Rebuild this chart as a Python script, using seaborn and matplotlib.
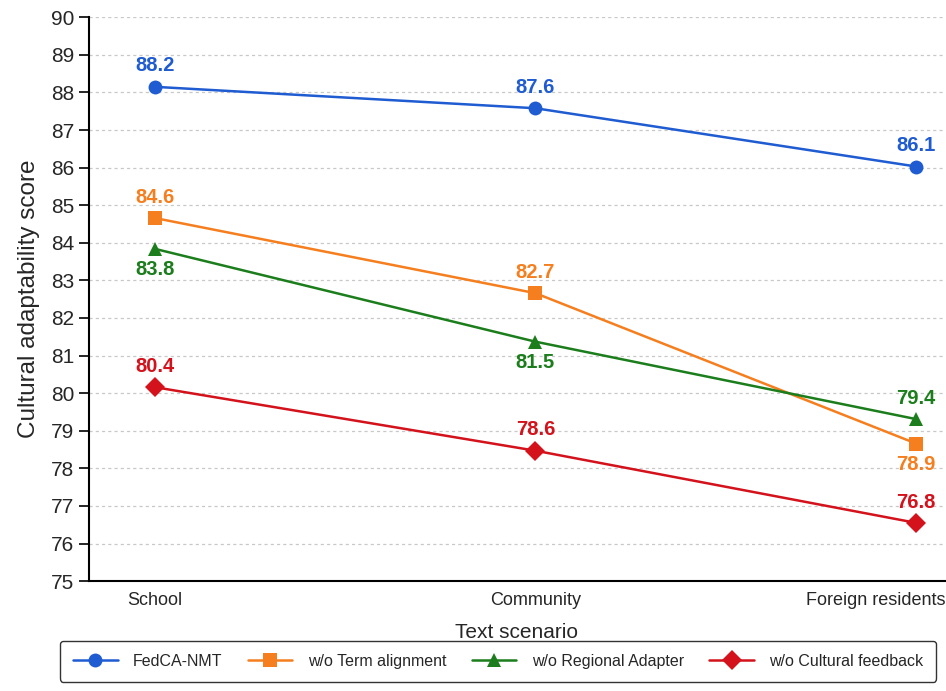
import pandas as pd
import matplotlib.pyplot as plt
import matplotlib.transforms as mtransforms
import seaborn as sns

scenarios = ['School', 'Community', 'Foreign residents']
models = ['FedCA-NMT', 'w/o Term alignment', 'w/o Regional Adapter', 'w/o Cultural feedback']

# point positions
fedca = [88.15, 87.58, 86.03]
term = [84.66, 82.66, 78.66]
regional = [83.84, 81.37, 79.31]
feedback = [80.16, 78.47, 76.55]

# printed labels
fedca_lab = ['88.2', '87.6', '86.1']
term_lab = ['84.6', '82.7', '78.9']
regional_lab = ['83.8', '81.5', '79.4']
feedback_lab = ['80.4', '78.6', '76.8']

colors = ['#1f5bd1', '#f57f1f', '#1b7d1b', '#d3121c']
markers = ['o', 's', '^', 'D']

rows = []
for m, vals in zip(models, [fedca, term, regional, feedback]):
    for s, v in zip(scenarios, vals):
        rows.append({'Text scenario': s, 'score': v, 'model': m})
df = pd.DataFrame(rows)

sns.set_theme(style='white')
plt.rcParams['font.family'] = ['Liberation Sans', 'DejaVu Sans']

fig = plt.figure(figsize=(9.46, 6.91), dpi=100)
ax = fig.add_axes([0.094, 0.159, 0.905, 0.816])

sns.lineplot(data=df, x='Text scenario', y='score', hue='model', style='model',
             hue_order=models, style_order=models, palette=colors,
             markers=dict(zip(models, markers)), dashes=False, sort=False,
             linewidth=1.8, markersize=10, markeredgewidth=0, ax=ax, legend=True)

# value labels: +1 above, -1 below
positions = [[1, 1, 1], [1, 1, -1], [-1, -1, 1], [1, 1, 1]]
for vals, labs, pos, c in zip([fedca, term, regional, feedback],
                              [fedca_lab, term_lab, regional_lab, feedback_lab],
                              positions, colors):
    for i, (v, t, p) in enumerate(zip(vals, labs, pos)):
        ax.annotate(t, (i, v), xytext=(0, 15 * p), textcoords='offset points',
                    ha='center', va='center', color=c, fontsize=14.5, fontweight='bold')

ax.set_ylim(75, 90)
ax.set_yticks(range(75, 91))
ax.set_xlim(-0.173, 2.076)
ax.yaxis.grid(True, linestyle=(0, (2.5, 2.5)), color='#c8c8c8', linewidth=0.9)
ax.xaxis.grid(False)
for side in ['top', 'right']:
    ax.spines[side].set_visible(False)
for side in ['left', 'bottom']:
    ax.spines[side].set_color('black')
    ax.spines[side].set_linewidth(1.5)
ax.tick_params(axis='y', labelsize=15, length=7, width=1.2, color='black', left=True)
ax.tick_params(axis='x', labelsize=13, length=0, pad=8)
# last tick label pulled left so it fits
last = ax.get_xticklabels()[-1]
last.set_transform(last.get_transform() + mtransforms.ScaledTranslation(-0.40, 0, fig.dpi_scale_trans))
ax.set_xlabel('Text scenario', fontsize=15, labelpad=10)
ax.set_ylabel('Cultural adaptability score', fontsize=17.5, labelpad=8)

handles, labels = ax.get_legend_handles_labels()
ax.get_legend().remove()
leg = fig.legend(handles, labels, loc='lower center', bbox_to_anchor=(0.5265, 0.002),
                 ncol=4, fontsize=11.5, frameon=True, edgecolor='black', fancybox=True,
                 columnspacing=1.6, handlelength=2.8, handletextpad=0.95, borderpad=0.8)
leg.get_frame().set_linewidth(1.0)

fig.savefig('out.png', dpi=100)
